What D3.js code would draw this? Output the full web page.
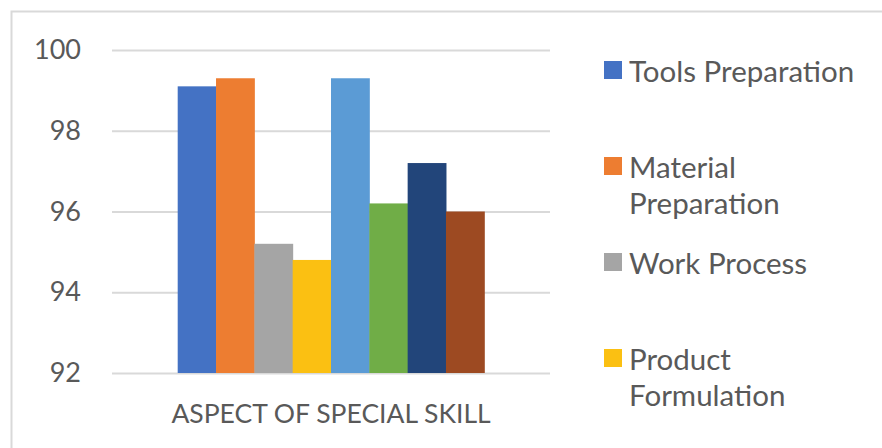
<!DOCTYPE html>
<html>
<head>
<meta charset="utf-8">
<script src="https://cdn.jsdelivr.net/npm/d3@7"></script>
<style>
  body { margin: 0; background: #fff; }
  svg { display: block; }
</style>
</head>
<body>
<div id="chart"></div>
<script>
// data
var category = ["ASPECT OF SPECIAL SKILL"];
var barValues = [99.1, 99.3, 95.2, 94.8, 99.3, 96.2, 97.2, 96.0];
var barColors = ["#4472c4", "#ed7d31", "#a5a5a5", "#fbc012", "#5b9bd5", "#70ad47", "#22457a", "#9d4a22"];
var legendLabels = [["Tools Preparation"], ["Material", "Preparation"], ["Work Process"], ["Product", "Formulation"]];
var yTicks = [92, 94, 96, 98, 100];

var svgWidth = 882;
var svgHeight = 448;
var fontFam = "Lato, 'Open Sans', sans-serif";
var textColor = "#595959";

var svg = d3.select("#chart")
  .append("svg")
  .attr("width", svgWidth)
  .attr("height", svgHeight);

// chart frame
svg.append("rect")
  .attr("x", 11.5)
  .attr("y", 11.5)
  .attr("width", 900)
  .attr("height", 500)
  .attr("fill", "#fff")
  .attr("stroke", "#d9d9d9")
  .attr("stroke-width", 2);

var x0 = d3.scaleBand()
  .domain(category)
  .range([112, 550])
  .paddingInner(0.3)
  .paddingOuter(0.15);

var x1 = d3.scaleBand()
  .domain(d3.range(barValues.length))
  .range([0, x0.bandwidth()]);

var y = d3.scaleLinear()
  .domain([92, 100])
  .range([373, 50]);

// gridlines + y labels
var yAxis = svg.append("g")
  .attr("transform", "translate(112,0)")
  .call(d3.axisLeft(y).tickValues(yTicks).tickSize(-(550 - 112)).tickPadding(31));

yAxis.select(".domain").remove();
yAxis.selectAll(".tick line")
  .attr("stroke", "#d9d9d9")
  .attr("stroke-width", 2);
yAxis.selectAll(".tick text")
  .attr("fill", textColor)
  .attr("font-family", fontFam)
  .attr("font-size", "27px");

// bars
svg.append("g")
  .selectAll("rect")
  .data(barValues)
  .enter()
  .append("rect")
  .attr("x", (d, i) => x0(category[0]) + x1(i))
  .attr("y", d => y(d))
  .attr("width", x1.bandwidth() + 0.5)
  .attr("height", d => y(92) - y(d))
  .attr("fill", (d, i) => barColors[i]);

// category label
svg.append("text")
  .attr("x", x0(category[0]) + x0.bandwidth() / 2)
  .attr("y", 423)
  .attr("text-anchor", "middle")
  .attr("fill", textColor)
  .attr("font-family", fontFam)
  .attr("font-size", "26.5px")
  .text(category[0]);

// legend
var legend = svg.append("g").selectAll("g")
  .data(legendLabels)
  .enter()
  .append("g")
  .attr("transform", (d, i) => `translate(604, ${61 + i * 96})`);

legend.append("rect")
  .attr("width", 18)
  .attr("height", 18)
  .attr("fill", (d, i) => barColors[i]);

legend.selectAll("text")
  .data(d => d)
  .enter()
  .append("text")
  .attr("x", 25)
  .attr("y", (d, j) => 21 + j * 36)
  .attr("fill", textColor)
  .attr("font-family", fontFam)
  .attr("font-size", "29.5px")
  .text(d => d);
</script>
</body>
</html>
